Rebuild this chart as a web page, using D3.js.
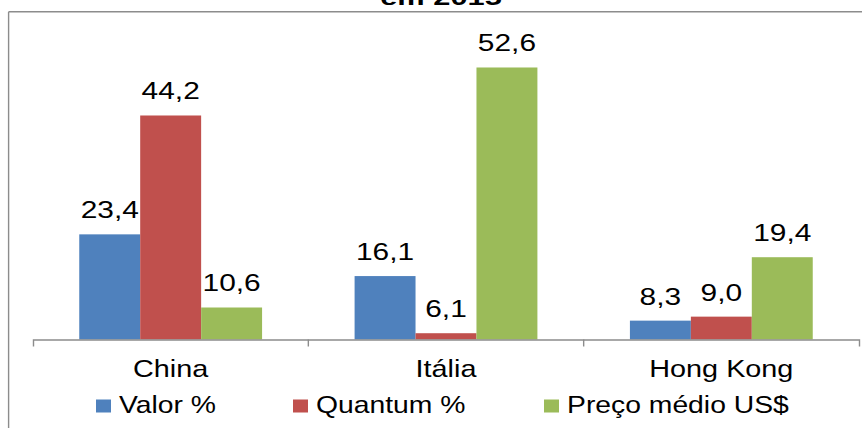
<!DOCTYPE html>
<html>
<head>
<meta charset="utf-8">
<script src="https://cdn.jsdelivr.net/npm/d3@7/dist/d3.min.js"></script>
<style>
  html, body { margin: 0; padding: 0; background: #fff; }
  svg { display: block; font-family: "Liberation Sans", Arial, sans-serif; }
</style>
</head>
<body>
<svg id="chart" width="862" height="428"></svg>
<script>
// Data
const categories = ["China", "Itália", "Hong Kong"];
const seriesNames = ["Valor %", "Quantum %", "Preço médio US$"];
const valor = [23.4, 16.1, 8.3];
const quantum = [44.2, 6.1, 9.0];
const precoMedio = [10.6, 52.6, 19.4];
const seriesValues = [valor, quantum, precoMedio];
const colors = ["#4F81BD", "#C0504D", "#9BBB59"];
const titleText = "em 2015";

const fmt = v => v.toFixed(1).replace(".", ",");

const svg = d3.select("#chart");
const W = 862, H = 428;

// Chart frame (top and left edges)
svg.append("line").attr("x1", 8.6).attr("x2", W).attr("y1", 11.8).attr("y2", 11.8)
  .attr("stroke", "#8c8c8c").attr("stroke-width", 1.4);
svg.append("line").attr("x1", 8.6).attr("x2", 8.6).attr("y1", 11.8).attr("y2", H)
  .attr("stroke", "#8c8c8c").attr("stroke-width", 1.4);

// Title (wide bold text, last line of a title that runs above the top edge)
svg.append("text")
  .attr("transform", "translate(441,4.5) scale(1.4,1)")
  .attr("text-anchor", "middle")
  .attr("font-weight", "bold")
  .attr("font-size", 22)
  .attr("fill", "#000")
  .text(titleText);

// Scales
const x0 = d3.scaleBand().domain(categories).range([33, 859]).padding(0);
const bw = x0.bandwidth();
const groupGap = bw * 0.168;
const x1 = d3.scaleBand().domain(d3.range(seriesNames.length)).range([groupGap, bw - groupGap]).padding(0);
const y = d3.scaleLinear().domain([5, 60]).range([339.5, 25.2]);

// Bars
const rows = categories.map((c, i) => ({ cat: c, vals: seriesValues.map(s => s[i]) }));
const groups = svg.append("g").selectAll("g").data(rows).join("g")
  .attr("transform", d => `translate(${x0(d.cat)},0)`);

groups.selectAll("rect").data(d => d.vals.map((v, k) => ({ v, k }))).join("rect")
  .attr("x", d => x1(d.k))
  .attr("width", x1.bandwidth())
  .attr("y", d => y(d.v))
  .attr("height", d => y(5) - y(d.v))
  .attr("fill", d => colors[d.k]);

// Value labels
groups.selectAll("text").data(d => d.vals.map((v, k) => ({ v, k }))).join("text")
  .attr("transform", d => `translate(${x1(d.k) + x1.bandwidth() / 2},${y(d.v) - 16}) scale(1.3,1)`)
  .attr("text-anchor", "middle")
  .attr("font-size", 23)
  .attr("fill", "#000")
  .text(d => fmt(d.v));

// Category axis
const axis = svg.append("g").attr("transform", `translate(0,${y(5)})`)
  .call(d3.axisBottom(x0).tickSize(0).tickSizeOuter(7).tickFormat(""));
axis.select(".domain").attr("stroke", "#8c8c8c").attr("stroke-width", 1.4);
axis.selectAll(".tick").remove();
axis.selectAll("line.sep").data(categories.slice(1)).join("line")
  .attr("class", "sep")
  .attr("x1", d => x0(d)).attr("x2", d => x0(d))
  .attr("y1", 0).attr("y2", 7)
  .attr("stroke", "#8c8c8c").attr("stroke-width", 1.4);

svg.append("g").selectAll("text").data(categories).join("text")
  .attr("transform", d => `translate(${x0(d) + bw / 2},376.5) scale(1.2,1)`)
  .attr("text-anchor", "middle")
  .attr("font-size", 24)
  .attr("fill", "#000")
  .text(d => d);

// Legend
const legendX = [96, 293, 544];
const legend = svg.append("g").selectAll("g").data(seriesNames).join("g")
  .attr("transform", (d, i) => `translate(${legendX[i]},0)`);
legend.append("rect").attr("x", 0).attr("y", 399.5).attr("width", 15).attr("height", 13)
  .attr("fill", (d, i) => colors[i]);
legend.append("text")
  .attr("transform", "translate(23,412.7) scale(1.18,1)")
  .attr("font-size", 24)
  .attr("fill", "#000")
  .text(d => d);
</script>
</body>
</html>
